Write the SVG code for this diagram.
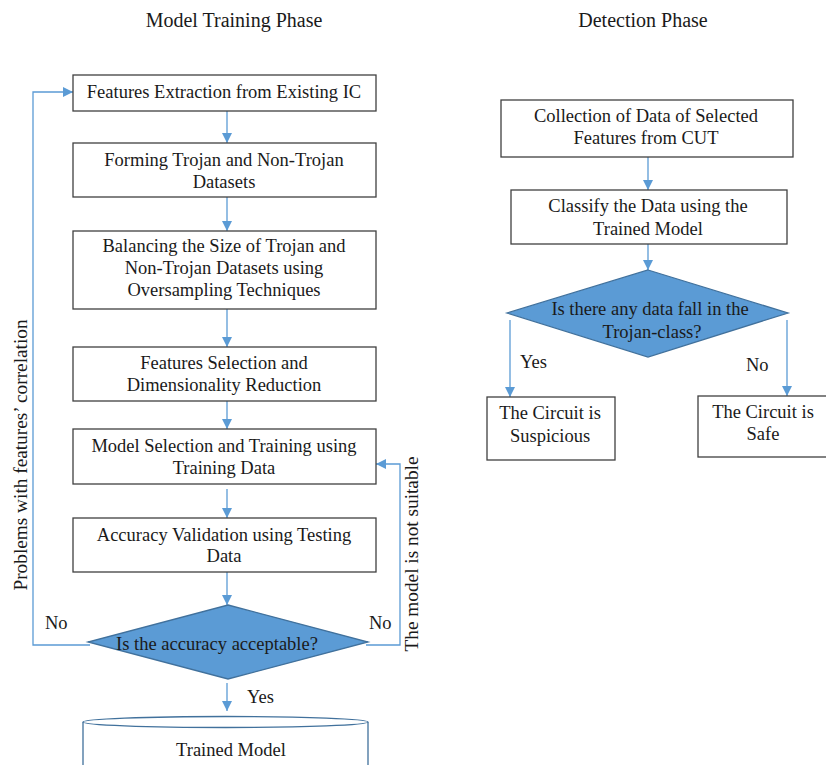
<svg xmlns="http://www.w3.org/2000/svg" width="826" height="765" viewBox="0 0 826 765">
  <style>
    text { font-family: "Liberation Serif", "Times New Roman", serif; fill: #1a1a1a; }
    .t { font-size: 18.5px; text-anchor: middle; }
    .title { font-size: 20px; text-anchor: middle; }
    .lbl { font-size: 18.5px; }
    .side { font-size: 19.3px; text-anchor: middle; }
    .box { fill: #ffffff; stroke: #404040; stroke-width: 1.3; }
    .dec { fill: #5b9bd5; stroke: #41719c; stroke-width: 1.3; }
    .cyl { fill: #ffffff; stroke: #41719c; stroke-width: 1.3; }
    .link { fill: none; stroke: #5b9bd5; stroke-width: 1.3; }
  </style>
  <defs>
    <marker id="arrow" viewBox="0 0 10 10" refX="10" refY="5" markerWidth="10" markerHeight="10" markerUnits="userSpaceOnUse" orient="auto">
      <path d="M0,0 L10,5 L0,10 z" fill="#5b9bd5"/>
    </marker>
  </defs>

  <rect width="826" height="765" fill="#ffffff"/>

  <!-- phase headings -->
  <text class="title" x="234" y="27">Model Training Phase</text>
  <text class="title" x="643" y="27">Detection Phase</text>

  <!-- connectors -->
  <g id="connectors">
    <line class="link" x1="227" y1="111" x2="227" y2="143" marker-end="url(#arrow)"/>
    <line class="link" x1="227" y1="197" x2="227" y2="231" marker-end="url(#arrow)"/>
    <line class="link" x1="227" y1="309" x2="227" y2="347" marker-end="url(#arrow)"/>
    <line class="link" x1="227" y1="401" x2="227" y2="429" marker-end="url(#arrow)"/>
    <line class="link" x1="227" y1="489" x2="227" y2="518" marker-end="url(#arrow)"/>
    <line class="link" x1="227" y1="572" x2="227" y2="605" marker-end="url(#arrow)"/>
    <line class="link" x1="227" y1="683" x2="227" y2="711" marker-end="url(#arrow)"/>
    <polyline class="link" points="90,645 33,645 33,92 73,92" marker-end="url(#arrow)"/>
    <polyline class="link" points="366,645 400,645 400,464 376,464" marker-end="url(#arrow)"/>

    <line class="link" x1="648" y1="157" x2="648" y2="190" marker-end="url(#arrow)"/>
    <line class="link" x1="648" y1="244" x2="648" y2="270" marker-end="url(#arrow)"/>
    <line class="link" x1="510" y1="320" x2="510" y2="397" marker-end="url(#arrow)"/>
    <line class="link" x1="787" y1="320" x2="787" y2="396" marker-end="url(#arrow)"/>

    <text class="lbl" x="45" y="629">No</text>
    <text class="lbl" x="369" y="629">No</text>
    <text class="lbl" x="247" y="703">Yes</text>
    <text class="lbl" x="520" y="368">Yes</text>
    <text class="lbl" x="746" y="371">No</text>
    <text class="side" transform="translate(27,455) rotate(-90)">Problems with features’ correlation</text>
    <text class="side" transform="translate(418,554) rotate(-90)">The model is not suitable</text>
  </g>

  <!-- training phase -->
  <g id="extract">
    <rect class="box" x="73" y="75" width="303" height="36"/>
    <text class="t" x="224" y="98">Features Extraction from Existing IC</text>
  </g>
  <g id="datasets">
    <rect class="box" x="73" y="143" width="303" height="54"/>
    <text class="t" x="224" y="166">Forming Trojan and Non-Trojan</text>
    <text class="t" x="224" y="188">Datasets</text>
  </g>
  <g id="balance">
    <rect class="box" x="73" y="231" width="303" height="78"/>
    <text class="t" x="224" y="252">Balancing the Size of Trojan and</text>
    <text class="t" x="224" y="274">Non-Trojan Datasets using</text>
    <text class="t" x="224" y="296">Oversampling Techniques</text>
  </g>
  <g id="select">
    <rect class="box" x="73" y="347" width="303" height="54"/>
    <text class="t" x="224" y="369">Features Selection and</text>
    <text class="t" x="224" y="391">Dimensionality Reduction</text>
  </g>
  <g id="train">
    <rect class="box" x="73" y="429" width="303" height="55"/>
    <text class="t" x="224" y="452">Model Selection and Training using</text>
    <text class="t" x="224" y="474">Training Data</text>
  </g>
  <g id="validate">
    <rect class="box" x="73" y="518" width="303" height="54"/>
    <text class="t" x="224" y="541">Accuracy Validation using Testing</text>
    <text class="t" x="224" y="562">Data</text>
  </g>
  <g id="accept">
    <polygon class="dec" points="228,605 368,642 228,679 88,642"/>
    <text class="t" x="217" y="650">Is the accuracy acceptable?</text>
  </g>
  <g id="model">
    <path class="cyl" d="M83,722 L83,780 L368,780 L368,722"/>
    <ellipse class="cyl" cx="225.5" cy="722" rx="142.5" ry="5.5"/>
    <text class="t" x="231" y="756">Trained Model</text>
  </g>

  <!-- detection phase -->
  <g id="collect">
    <rect class="box" x="501" y="100" width="292" height="57"/>
    <text class="t" x="646" y="122">Collection of Data of Selected</text>
    <text class="t" x="646" y="144">Features from CUT</text>
  </g>
  <g id="classify">
    <rect class="box" x="511" y="190" width="276" height="54"/>
    <text class="t" x="648" y="212">Classify the Data using the</text>
    <text class="t" x="648" y="235">Trained Model</text>
  </g>
  <g id="trojan-check">
    <polygon class="dec" points="648,270 788,313 648,357 507,313"/>
    <text class="t" x="650" y="315">Is there any data fall in the</text>
    <text class="t" x="652" y="338">Trojan-class?</text>
  </g>
  <g id="suspicious">
    <rect class="box" x="487" y="397" width="128" height="63"/>
    <text class="t" x="550" y="419">The Circuit is</text>
    <text class="t" x="550" y="442">Suspicious</text>
  </g>
  <g id="safe">
    <rect class="box" x="698" y="396" width="140" height="61"/>
    <text class="t" x="763" y="418">The Circuit is</text>
    <text class="t" x="763" y="440">Safe</text>
  </g>
</svg>
